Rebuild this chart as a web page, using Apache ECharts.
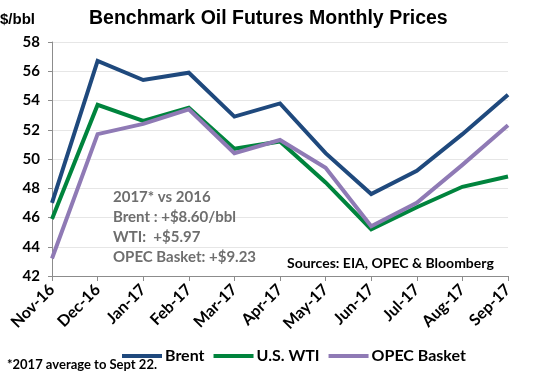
<!DOCTYPE html>
<html>
<head>
<meta charset="utf-8">
<script src="https://cdn.jsdelivr.net/npm/echarts@6/dist/echarts.min.js"></script>
<style>
html,body{margin:0;padding:0;background:#fff;}
#c{width:534px;height:380px;}
</style>
</head>
<body>
<div id="c"></div>
<script>
const categories = ['Nov-16','Dec-16','Jan-17','Feb-17','Mar-17','Apr-17','May-17','Jun-17','Jul-17','Aug-17','Sep-17'];
const brent = [47.0, 56.7, 55.4, 55.9, 52.9, 53.8, 50.4, 47.6, 49.2, 51.7, 54.4];
const wti   = [45.9, 53.7, 52.6, 53.5, 50.7, 51.2, 48.4, 45.2, 46.7, 48.1, 48.8];
const opec  = [43.2, 51.7, 52.4, 53.4, 50.4, 51.3, 49.4, 45.4, 47.0, 49.6, 52.3];
const seriesNames = ['Brent','U.S. WTI','OPEC Basket'];
const seriesColors = ['#1F497D','#00843D','#8F7AB5'];
const annotationLines = ['2017* vs 2016','Brent : +$8.60/bbl','WTI:  +$5.97','OPEC Basket: +$9.23'];

const labelFont = 'Lato, "Open Sans", sans-serif';
const chart = echarts.init(document.getElementById('c'), null, {renderer:'canvas'});
const datasets = [brent, wti, opec];

const graphics = [
  {type:'text', left:0, top:12, style:{text:'$/bbl', font:'bold 15px "Liberation Sans", Arial, sans-serif', fill:'#000'}, z:5},
  {type:'text', left:89, top:9, style:{text:'Benchmark Oil Futures Monthly Prices', font:'bold 19.5px "Liberation Sans", Arial, sans-serif', fill:'#000'}, z:5},
  {type:'text', left:287, top:256, style:{text:'Sources: EIA, OPEC & Bloomberg', font:'bold 14px ' + labelFont, fill:'#000'}, z:5},
  {type:'text', left:7, top:358, style:{text:'*2017 average to Sept 22.', font:'bold 13px ' + labelFont, fill:'#000'}, z:5}
];
annotationLines.forEach((t,i)=>{
  graphics.push({type:'text', left:113, top:190 + i*20, style:{text:t, font:'bold 15px ' + labelFont, fill:'#6e6e6e'}, z:5});
});

chart.setOption({
  animation:false,
  grid:{left:52, right:26, top:42, bottom:104, containLabel:false},
  legend:{
    data:seriesNames.map(n=>({name:n, icon:'rect'})),
    left:117, top:343,
    itemWidth:40, itemHeight:4, itemGap:9,
    textStyle:{fontFamily:labelFont, fontWeight:'bold', fontSize:16, color:'#000', padding:[0,0,0,-2]}
  },
  xAxis:{
    type:'category', data:categories, boundaryGap:false,
    axisLine:{lineStyle:{color:'#8c8c8c', width:1}},
    axisTick:{show:true, alignWithLabel:true, length:5, lineStyle:{color:'#8c8c8c'}},
    axisLabel:{rotate:45, margin:11, interval:0, fontFamily:labelFont, fontWeight:'bold', fontSize:16, color:'#000'},
    splitLine:{show:false}
  },
  yAxis:{
    type:'value', min:42, max:58, interval:2,
    axisLine:{show:true, lineStyle:{color:'#8c8c8c', width:1}},
    axisTick:{show:true, length:4, lineStyle:{color:'#8c8c8c'}},
    axisLabel:{margin:12, fontFamily:labelFont, fontWeight:'bold', fontSize:15, color:'#000'},
    splitLine:{show:true, lineStyle:{color:'#e6e6e6', width:1}}
  },
  series:datasets.map((d,i)=>({
    name:seriesNames[i], type:'line', data:d, symbol:'none', z:3,
    lineStyle:{width:4, color:seriesColors[i], join:'miter'},
    itemStyle:{color:seriesColors[i]}
  })),
  graphic:graphics
});
</script>
</body>
</html>
